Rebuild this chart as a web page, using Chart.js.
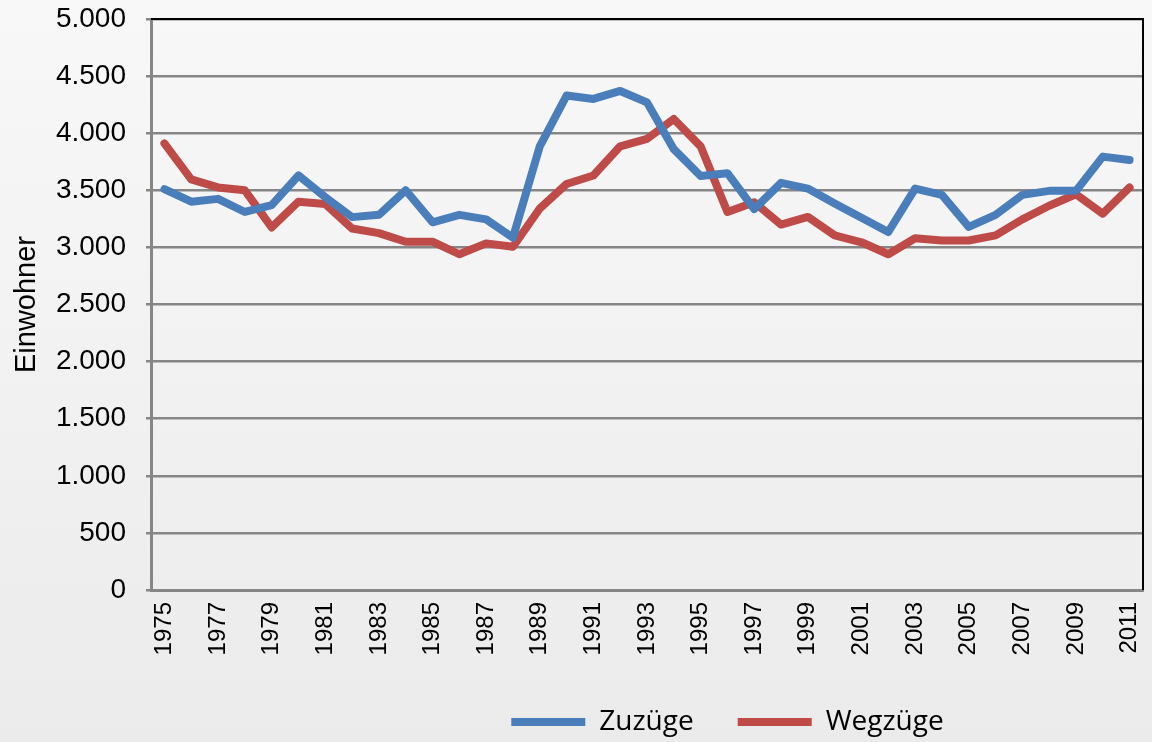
<!DOCTYPE html>
<html lang="de">
<head>
<meta charset="utf-8">
<title>Zuzüge und Wegzüge</title>
<script src="https://cdn.jsdelivr.net/npm/chart.js@4.4.0/dist/chart.umd.min.js"></script>
<style>
    html, body { margin: 0; padding: 0; }
    body { width: 1152px; height: 742px; background: linear-gradient(#f8f8f8, #ebebeb); overflow: hidden; }
    #wrap { position: relative; width: 1152px; height: 742px; }
    canvas { display: block; }
</style>
</head>
<body>
<div id="wrap"><canvas id="chart" width="1152" height="742"></canvas></div>
<script>
// Jahre 1975 - 2011
const years = ['1975','1976','1977','1978','1979','1980','1981','1982','1983','1984',
    '1985','1986','1987','1988','1989','1990','1991','1992','1993','1994',
    '1995','1996','1997','1998','1999','2000','2001','2002','2003','2004',
    '2005','2006','2007','2008','2009','2010','2011'];

// Werte (Einwohner)
const zuzuege = [3510, 3400, 3425, 3310, 3370, 3630, 3440, 3265, 3285, 3500,
    3220, 3285, 3245, 3085, 3885, 4330, 4300, 4370, 4270, 3860,
    3625, 3650, 3335, 3565, 3515, 3385, 3260, 3135, 3515, 3460,
    3180, 3285, 3460, 3495, 3495, 3795, 3765];

const wegzuege = [3910, 3595, 3525, 3500, 3175, 3400, 3380, 3165, 3125, 3050,
    3050, 2940, 3035, 3005, 3340, 3555, 3630, 3885, 3950, 4125,
    3885, 3310, 3395, 3200, 3267, 3105, 3045, 2940, 3080, 3060,
    3060, 3105, 3245, 3365, 3465, 3295, 3525];

const yTicks = [0, 500, 1000, 1500, 2000, 2500, 3000, 3500, 4000, 4500, 5000];

const blau = '#4a7ebb';
const rot = '#be4b48';
const gitter = '#868686';

// deutsche Tausendertrennung
function formatDE(v) {
    return String(v).replace(/\B(?=(\d{3})+(?!\d))/g, '.');
}

// schwarzer Rahmen oben und rechts wie im Excel-Diagramm
const rahmenPlugin = {
    id: 'rahmen',
    afterDraw(chart) {
        const { ctx, chartArea: a } = chart;
        ctx.save();
        ctx.strokeStyle = '#000';
        ctx.lineWidth = 2;
        ctx.beginPath();
        ctx.moveTo(a.left, a.top);
        ctx.lineTo(a.right, a.top);
        ctx.lineTo(a.right, a.bottom);
        ctx.stroke();
        ctx.restore();
    }
};

// Legende etwas nach rechts/unten schieben (wie im Original)
const legendeVerschieben = {
    id: 'legendeVerschieben',
    afterLayout(chart) {
        const lg = chart.legend;
        if (!lg) return;
        lg.left += 156; lg.right += 156;
        lg.top += 4; lg.bottom += 4;
    }
};

new Chart(document.getElementById('chart'), {
    type: 'line',
    data: {
        labels: years,
        datasets: [{
            label: 'Zuzüge',
            data: zuzuege,
            borderColor: blau,
            backgroundColor: blau,
            borderWidth: 8,
            pointRadius: 0,
            tension: 0,
            borderCapStyle: 'round',
            borderJoinStyle: 'round',
            fill: false
        }, {
            label: 'Wegzüge',
            data: wegzuege,
            borderColor: rot,
            backgroundColor: rot,
            borderWidth: 8,
            pointRadius: 0,
            tension: 0,
            borderCapStyle: 'round',
            borderJoinStyle: 'round',
            fill: false
        }]
    },
    options: {
        responsive: false,
        animation: false,
        layout: { padding: { top: 19, right: 9, left: 0, bottom: 0 } },
        plugins: {
            legend: {
                position: 'bottom',
                labels: {
                    usePointStyle: true,
                    pointStyle: 'line',
                    pointStyleWidth: 74,
                    boxHeight: 8,
                    padding: 44,
                    color: '#000',
                    font: { family: '"Open Sans", "Noto Sans", sans-serif', size: 28 }
                }
            },
            tooltip: { enabled: false }
        },
        scales: {
            x: {
                offset: true,
                grid: { display: false, drawTicks: false },
                border: { display: true, color: gitter, width: 3 },
                ticks: {
                    autoSkip: false,
                    minRotation: 90,
                    maxRotation: 90,
                    padding: 12,
                    color: '#000',
                    font: { family: '"Liberation Sans", Arial, sans-serif', size: 24 },
                    callback: function (val, i) { return i % 2 === 0 ? this.getLabelForValue(val) : ''; }
                },
                afterFit(scale) {
                    scale.height = 70;
                    scale.paddingLeft = 0;
                    scale.paddingRight = 0;
                }
            },
            y: {
                min: 0,
                max: 5000,
                afterBuildTicks(scale) { scale.ticks = yTicks.map(v => ({ value: v })); },
                grid: { color: gitter, lineWidth: 2.5, tickLength: 5 },
                border: { display: true, color: gitter, width: 3 },
                title: {
                    display: true,
                    text: 'Einwohner',
                    color: '#000',
                    padding: { top: 10, bottom: 0 },
                    font: { family: '"Liberation Sans", Arial, sans-serif', size: 29 }
                },
                ticks: {
                    padding: 20,
                    color: '#000',
                    font: { family: '"Liberation Sans", Arial, sans-serif', size: 28 },
                    callback: v => formatDE(v)
                },
                afterFit(scale) {
                    scale.width = 151;
                    scale.paddingTop = 0;
                    scale.paddingBottom = 0;
                }
            }
        }
    },
    plugins: [rahmenPlugin, legendeVerschieben]
});
</script>
</body>
</html>
